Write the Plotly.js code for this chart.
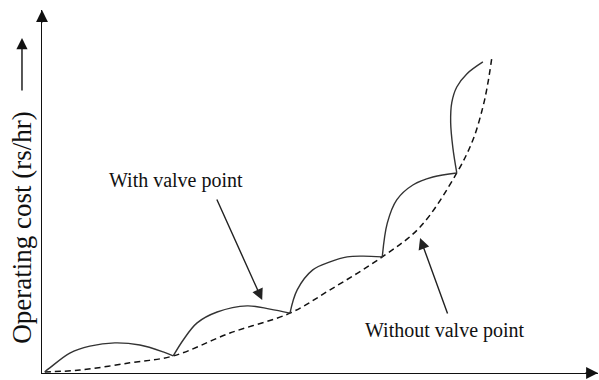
<!DOCTYPE html>
<html>
<head>
<meta charset="utf-8">
<script src="https://cdn.plot.ly/plotly-3.0.1.min.js"></script>
<style>
  body { margin: 0; background: #fff; }
  #myDiv { width: 599px; height: 380px; }
</style>
</head>
<body>
<div id="myDiv"></div>
<script>
// cost curve without valve point (dashed)
let plain_x = [0.5, 6.8, 15.8, 23.6, 33.8, 44.6, 51.8, 61.2, 68.0, 74.6, 77.5, 79.3, 80.2, 80.9];
let plain_y = [0.3, 0.8, 2.8, 4.7, 11.0, 16.5, 22.9, 32.0, 40.2, 55.1, 64.2, 73.3, 79.9, 86.8];

// cost curve with valve point, one array per loop
let seg1_x = [0.5, 1.4, 5.0, 8.6, 13.1, 17.6, 21.8, 23.6];
let seg1_y = [0.3, 1.4, 5.5, 7.4, 8.3, 7.7, 5.8, 4.7];
let seg2_x = [23.6, 25.4, 27.9, 31.5, 36.9, 41.0, 44.6];
let seg2_y = [4.7, 9.1, 13.8, 16.8, 18.5, 17.6, 16.5];
let seg3_x = [44.6, 45.9, 48.7, 51.8, 54.9, 57.7, 61.2];
let seg3_y = [16.5, 22.9, 28.4, 30.6, 32.0, 32.2, 32.0];
let seg4_x = [61.2, 62.1, 63.8, 66.7, 70.3, 74.6];
let seg4_y = [32.0, 41.3, 47.7, 51.8, 54.0, 55.1];
let seg5_x = [74.6, 73.9, 73.5, 73.7, 74.6, 76.4, 79.3];
let seg5_y = [55.1, 62.0, 69.0, 74.5, 78.8, 82.4, 85.7];

let label_with = 'With valve point';
let label_without = 'Without valve point';
let label_y = 'Operating cost (rs/hr)';

let serif = 'Liberation Serif, Times New Roman, serif';

let segs = [[seg1_x, seg1_y], [seg2_x, seg2_y], [seg3_x, seg3_y], [seg4_x, seg4_y], [seg5_x, seg5_y]];

let data = [{
    mode: 'lines',
    type: 'scatter',
    x: plain_x,
    y: plain_y,
    line: {color: '#111', width: 1.5, dash: '6px,4px', shape: 'spline'},
    hoverinfo: 'none'
}];
segs.forEach(function (s) {
    data.push({
        mode: 'lines',
        type: 'scatter',
        x: s[0],
        y: s[1],
        line: {color: '#333', width: 1.4, shape: 'spline'},
        hoverinfo: 'none'
    });
});

let layout = {
    width: 599,
    height: 380,
    margin: {l: 42, r: 1, t: 10, b: 7},
    paper_bgcolor: '#fff',
    plot_bgcolor: '#fff',
    showlegend: false,
    xaxis: {
        range: [0, 100],
        showgrid: false,
        zeroline: false,
        showticklabels: false,
        ticks: '',
        showline: true,
        linecolor: '#111',
        linewidth: 1.4
    },
    yaxis: {
        range: [0, 100],
        showgrid: false,
        zeroline: false,
        showticklabels: false,
        ticks: '',
        showline: true,
        linecolor: '#111',
        linewidth: 1.4
    },
    annotations: [
        // axis arrowheads
        {xref: 'paper', yref: 'paper', x: 1, y: 0, ax: -14, ay: 0, text: '',
         showarrow: true, arrowhead: 2, arrowsize: 1.7, arrowwidth: 1.4, arrowcolor: '#111'},
        {xref: 'paper', yref: 'paper', x: 0, y: 1, ax: 0, ay: 14, text: '',
         showarrow: true, arrowhead: 2, arrowsize: 1.7, arrowwidth: 1.4, arrowcolor: '#111'},
        // y label and its arrow
        {xref: 'paper', yref: 'paper', x: -0.036, y: 0.40, xanchor: 'center', yanchor: 'middle',
         text: label_y, textangle: -90,
         showarrow: false, font: {family: serif, size: 27, color: '#111'}},
        {xref: 'paper', yref: 'paper', x: -0.036, y: 0.923, ax: 0, ay: 54, text: '',
         showarrow: true, arrowhead: 2, arrowsize: 1.6, arrowwidth: 1.4, arrowcolor: '#111'},
        // curve labels
        {x: 24.1, y: 52.9, xanchor: 'center', yanchor: 'middle', text: label_with, showarrow: false,
         font: {family: serif, size: 20, color: '#111'}},
        {x: 72.5, y: 11.6, xanchor: 'center', yanchor: 'middle', text: label_without, showarrow: false,
         font: {family: serif, size: 20, color: '#111'}},
        // pointers
        {x: 39.6, y: 20.1, ax: -46, ay: -102, text: '',
         showarrow: true, arrowhead: 2, arrowsize: 1.6, arrowwidth: 1.4, arrowcolor: '#222'},
        {x: 68.0, y: 37.2, ax: 28, ay: 77, text: '',
         showarrow: true, arrowhead: 2, arrowsize: 1.6, arrowwidth: 1.4, arrowcolor: '#222'}
    ]
};

Plotly.newPlot('myDiv', data, layout, {staticPlot: true});
</script>
</body>
</html>
